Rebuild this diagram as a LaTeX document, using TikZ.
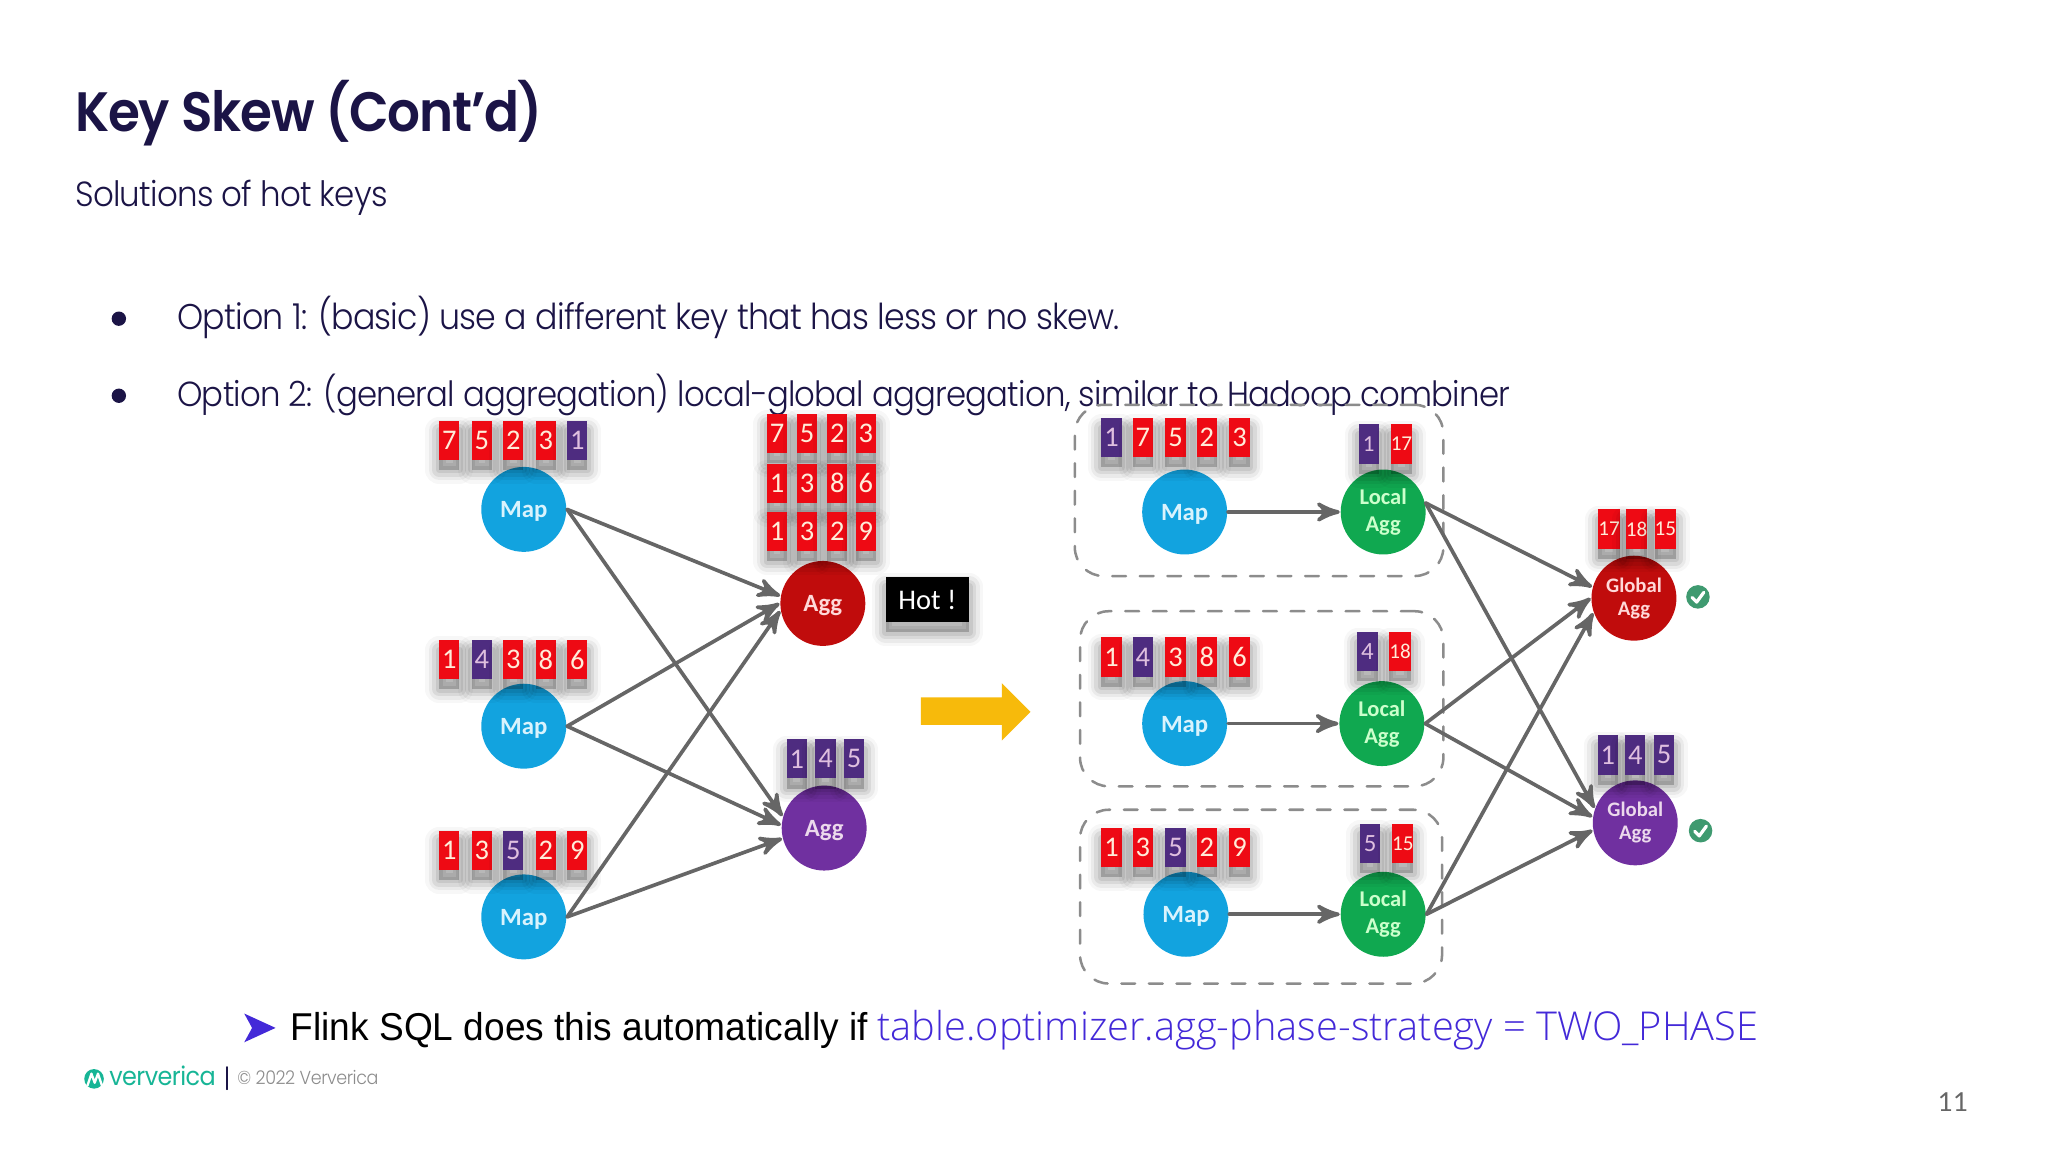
\documentclass[tikz,border=0pt]{standalone}
\usepackage{fontspec}
\setmainfont{Poppins}[UprightFont=* Light,BoldFont=* SemiBold,FakeStretch=0.93,LetterSpace=-2.2]
\newfontfamily\calib{Carlito}
\newfontfamily\sqlfont{Open Sans}[UprightFont=* Light]
\newfontfamily\aricond{Liberation Sans}[FakeStretch=0.955]
\newfontfamily\pagefont{Lato}
\newfontfamily\brandfont{Poppins}[FakeStretch=0.93,LetterSpace=-2.2]
\usetikzlibrary{arrows}
\definecolor{navy}{HTML}{1B1446}
\definecolor{mapblue}{HTML}{12A3DF}
\definecolor{aggred}{HTML}{C00C0C}
\definecolor{aggpurple}{HTML}{7030A0}
\definecolor{localgreen}{HTML}{10A850}
\definecolor{tilered}{HTML}{EE0A14}
\definecolor{tilepurple}{HTML}{4E2C80}
\definecolor{linkgray}{HTML}{666666}
\definecolor{vvgreen}{HTML}{17B596}
\definecolor{okgreen}{HTML}{3F9A70}
\definecolor{sqlblue}{HTML}{4329D8}
\definecolor{arrowyellow}{HTML}{F7BA0B}
\newcommand{\fsize}[1]{\fontsize{#1}{#1}\selectfont}

\begin{document}
\begin{tikzpicture}[line cap=round,line join=round,>=stealth',x=0.01cm,y=-0.01cm,
softlayer/.style 2 args={preaction={draw=black,fill=black,opacity=#1,line width=#2,transform canvas={yshift=-2.2pt}}},
softshadow/.style={softlayer={.03}{6pt},softlayer={.05}{4.5pt},softlayer={.07}{3pt},softlayer={.08}{1.5pt}},
redtile/.style={softshadow,fill=tilered,text=white!85!orange,minimum width=0.155cm,minimum height=0.3cm,inner sep=0pt,font=\calib\fsize{6.2}},
purpletile/.style={redtile,fill=tilepurple,text=white!75!violet},
round node/.style={circle,minimum size=0.65cm,inner sep=0pt,align=center,font=\calib\bfseries\fsize{5.4}},
mapnode/.style={round node,fill=mapblue,text=white!85!cyan,text height=4.6pt},
aggnode/.style={round node,fill=aggred,text=white!85!red},
purpleagg/.style={round node,fill=aggpurple,text=white!85!violet},
localnode/.style={round node,fill=localgreen,text=white!80!green,font=\calib\bfseries\fsize{4.9}},
dashbox/.style={draw=black!45,dashed,line width=0.55pt,rounded corners=0.22cm,inner sep=0pt},
link/.style={->,draw=linkgray,line width=0.8pt},
page text/.style={anchor=base west,inner sep=0pt,text=navy},
okcheck/.style={circle,fill=okgreen,minimum size=0.18cm,inner sep=0pt}]
\useasboundingbox (0,0) rectangle (1568,882);

\node[page text,font=\bfseries\fsize{12.08}] (title) at (57,101) {Key Skew (Cont’d)};
\node[page text,font=\fsize{7.6}] (subtitle) at (57,158) {Solutions of hot keys};
\node[circle,fill=navy,minimum size=0.11cm,inner sep=0pt] (bullet1) at (91,244) {};
\node[circle,fill=navy,minimum size=0.11cm,inner sep=0pt] (bullet2) at (91,303) {};
\node[page text,font=\fsize{7.78}] (option1) at (135,252) {Option 1: (basic) use a different key that has less or no skew.};
\node[page text,font=\fsize{7.57}] (option2) at (135,311) {Option 2: (general aggregation) local-global aggregation, similar to Hadoop combiner};

% left side
\node[mapnode] (m1) at (401,390) {Map};
\node[mapnode] (m2) at (401,556) {Map};
\node[mapnode] (m3) at (401,702) {Map};
\node[aggnode,text height=4.6pt] (agg1) at (630,462) {Agg};
\node[purpleagg,text height=4.6pt] (agg2) at (631,634) {Agg};
\node[redtile] (a1) at (344,337) {7};
\node[redtile] (a2) at (369,337) {5};
\node[redtile] (a3) at (393,337) {2};
\node[redtile] (a4) at (418,337) {3};
\node[purpletile] (a5) at (442,337) {1};
\node[redtile] (b1) at (344,505) {1};
\node[purpletile] (b2) at (369,505) {4};
\node[redtile] (b3) at (393,505) {3};
\node[redtile] (b4) at (418,505) {8};
\node[redtile] (b5) at (442,505) {6};
\node[redtile] (c1) at (344,651) {1};
\node[redtile] (c2) at (369,651) {3};
\node[purpletile] (c3) at (393,651) {5};
\node[redtile] (c4) at (418,651) {2};
\node[redtile] (c5) at (442,651) {9};
\node[redtile] (d1) at (595,332) {7};
\node[redtile] (d2) at (618,332) {5};
\node[redtile] (d3) at (641,332) {2};
\node[redtile] (d4) at (663,332) {3};
\node[redtile] (e1) at (595,370) {1};
\node[redtile] (e2) at (618,370) {3};
\node[redtile] (e3) at (641,370) {8};
\node[redtile] (e4) at (663,370) {6};
\node[redtile] (f1) at (595,407) {1};
\node[redtile] (f2) at (618,407) {3};
\node[redtile] (f3) at (641,407) {2};
\node[redtile] (f4) at (663,407) {9};
\node[purpletile] (g1) at (610,581) {1};
\node[purpletile] (g2) at (632,581) {4};
\node[purpletile] (g3) at (654,581) {5};
\node[softshadow,fill=black,text=white,minimum width=0.64cm,minimum height=0.35cm,inner sep=0pt,font=\calib\fsize{6.2}] (hot) at (710,459) {Hot !};
\draw [link] (m1.east)-- (agg1.170);
\draw [link] (m2.east)-- (agg1.180);
\draw [link] (m3.east)-- (agg1.190);
\draw [link] (m1.east)-- (agg2.164);
\draw [link] (m2.east)-- (agg2.176);
\draw [link] (m3.east)-- (agg2.194);

% yellow arrow
\fill [color=arrowyellow] (705,534) -- (767,534) -- (767,523) -- (789,545) -- (767,567) -- (767,555) -- (705,555) -- cycle;

% right side
\node[dashbox,minimum width=2.82cm,minimum height=1.31cm] (box1) at (964,375.5) {};
\node[dashbox,minimum width=2.78cm,minimum height=1.34cm] (box2) at (966,535) {};
\node[dashbox,minimum width=2.77cm,minimum height=1.33cm] (box3) at (965.5,686.5) {};
\node[mapnode] (r1) at (907,392) {Map};
\node[mapnode] (r2) at (907,554) {Map};
\node[mapnode] (r3) at (908,700) {Map};
\node[localnode] (l1) at (1059,392) {Local\\[1pt]Agg};
\node[localnode] (l2) at (1058,554) {Local\\[1pt]Agg};
\node[localnode] (l3) at (1059,700) {Local\\[1pt]Agg};
\node[aggnode,font=\calib\bfseries\fsize{4.5}] (g4) at (1251,458) {Global\\[0.5pt]Agg};
\node[purpleagg,font=\calib\bfseries\fsize{4.5}] (g5) at (1252,630) {Global\\[0.5pt]Agg};
\node[purpletile] (p1) at (851,335) {1};
\node[redtile] (p2) at (875,335) {7};
\node[redtile] (p3) at (900,335) {5};
\node[redtile] (p4) at (924,335) {2};
\node[redtile] (p5) at (949,335) {3};
\node[redtile] (q1) at (851,503) {1};
\node[purpletile] (q2) at (875,503) {4};
\node[redtile] (q3) at (900,503) {3};
\node[redtile] (q4) at (924,503) {8};
\node[redtile] (q5) at (949,503) {6};
\node[redtile] (s1) at (851,649) {1};
\node[redtile] (s2) at (875,649) {3};
\node[purpletile] (s3) at (900,649) {5};
\node[redtile] (s4) at (924,649) {2};
\node[redtile] (s5) at (949,649) {9};
\node[purpletile,font=\calib\fsize{5}] (t1) at (1048,340) {1};
\node[redtile,font=\calib\fsize{4.6}] (t2) at (1073,340) {17};
\node[purpletile,font=\calib\fsize{5.4}] (u1) at (1047,499) {4};
\node[redtile,font=\calib\fsize{4.6}] (u2) at (1072,499) {18};
\node[purpletile,font=\calib\fsize{5.4}] (v1) at (1049,646) {5};
\node[redtile,font=\calib\fsize{4.6}] (v2) at (1074,646) {15};
\node[redtile,font=\calib\fsize{4.6}] (w1) at (1232,405) {17};
\node[redtile,font=\calib\fsize{4.6}] (w2) at (1253,405) {18};
\node[redtile,font=\calib\fsize{4.6}] (w3) at (1275,405) {15};
\node[purpletile] (x1) at (1231,578) {1};
\node[purpletile] (x2) at (1252,578) {4};
\node[purpletile] (x3) at (1274,578) {5};
\draw [link] (r1.east)-- (l1.west);
\draw [link] (r2.east)-- (l2.west);
\draw [link] (r3.east)-- (l3.west);
\draw [link] (l1.12)-- (g4.165);
\draw [link] (l2.east)-- (g4.180);
\draw [link] (l3.east)-- (g4.200);
\draw [link] (l1.12)-- (g5.160);
\draw [link] (l2.east)-- (g5.172);
\draw [link] (l3.east)-- (g5.190);
\node[okcheck] (ok1) at (1300,457) {};
\node[okcheck] (ok2) at (1302,636) {};
\draw [white,line width=0.7pt] (1295.5,457.5) -- (1299,461) -- (1304.5,453.5);
\draw [white,line width=0.7pt] (1297.5,636.5) -- (1301,640) -- (1306.5,632.5);

% bottom line
\fill [color=sqlblue] (187,776) -- (211,787) -- (187,798) -- (193,787) -- cycle;
\node[page text,text=black,font=\aricond\fsize{8.45}] (flink) at (222,797) {Flink SQL does this automatically if};
\node[page text,text=sqlblue,font=\sqlfont\fsize{8.66}] (strategy) at (671,797) {table.optimizer.agg-phase-strategy = TWO\_PHASE};

% footer
\fill [color=vvgreen] (72,826) circle (7.5);
\draw [white,line width=0.5pt] (67,831) -- (70,822) -- (72.5,829) -- (75,822) -- (78,831);
\node[page text,text=vvgreen,font=\brandfont\fsize{5.6}] (brand) at (83,831) {ververica};
\draw [navy,line width=0.4pt] (174,817) -- (174,834);
\node[page text,text=black!45,font=\fsize{4.1}] (copy) at (181,830) {© 2022 Ververica};
\node[page text,text=black!60,font=\pagefont\fsize{5.7}] (pagenum) at (1483,851) {11};

\end{tikzpicture}
\end{document}
